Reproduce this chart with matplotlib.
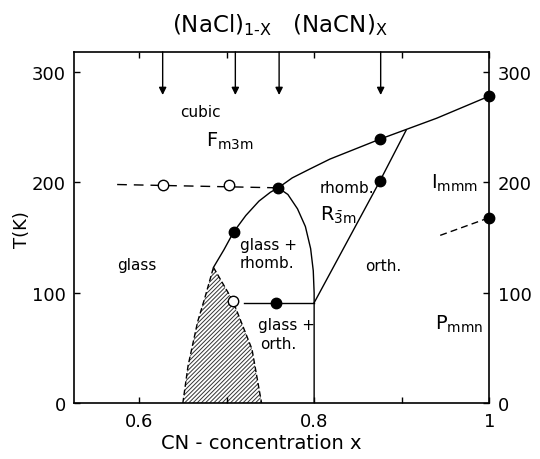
import matplotlib
matplotlib.use("Agg")
import matplotlib.pyplot as plt
from matplotlib.patches import Polygon

plt.rcParams['font.family'] = ['DejaVu Sans']
plt.rcParams['mathtext.fontset'] = 'dejavusans'
plt.rcParams['hatch.linewidth'] = 0.7

# Measured transition points (x, T in K)
filled_x = [0.759, 0.708, 0.757, 0.875, 0.875, 1.0, 1.0]
filled_T = [195, 155, 91, 239, 201, 278, 168]
open_x = [0.627, 0.703, 0.707]
open_T = [198, 198, 93]

# Concentrations of the samples (arrows on top)
sample_x = [0.627, 0.710, 0.760, 0.876]

# Phase boundaries
cubic_x = [0.759, 0.775, 0.795, 0.818, 0.875, 0.94, 1.0]
cubic_T = [195, 204, 212, 221, 239, 258, 278]

dome_x = [0.685, 0.697, 0.708, 0.722, 0.737, 0.750, 0.759, 0.770, 0.781, 0.790, 0.796, 0.799, 0.800, 0.800]
dome_T = [123, 139, 155, 170, 183, 191, 195, 189, 176, 160, 140, 120, 100, 0]

orth_x = [0.800, 0.875, 0.905]
orth_T = [91, 201, 247]

glass_orth_x = [0.720, 0.800]
glass_orth_T = [91, 91]

dash_x = [0.575, 0.759]
dash_T = [198, 195]

imm_x = [0.944, 1.0]
imm_T = [152, 168]

# Frozen-glass region
hatch_left_x = [0.650, 0.656, 0.667, 0.675, 0.685]
hatch_left_T = [0, 34, 74, 95, 123]
hatch_right_x = [0.685, 0.707, 0.729, 0.740]
hatch_right_T = [123, 93, 49, 0]

fig = plt.figure(figsize=(5.4, 4.6), dpi=100)
ax = fig.add_axes([0.137, 0.121, 0.769, 0.764])
ax.set_xlim(0.5257, 1.0)
ax.set_ylim(0, 318)

lw = 1.0
poly = list(zip(hatch_left_x, hatch_left_T)) + list(zip(hatch_right_x[1:], hatch_right_T[1:]))
ax.add_patch(Polygon(poly, closed=True, facecolor='white', edgecolor='#333333',
                     hatch='////////', linewidth=0, zorder=1))
ax.plot(hatch_left_x, hatch_left_T, color='black', lw=lw, ls=(0, (4, 2)), zorder=2)
ax.plot(hatch_right_x, hatch_right_T, color='black', lw=lw, ls=(0, (4, 2)), zorder=2)

ax.plot(cubic_x, cubic_T, color='black', lw=lw, zorder=3)
ax.plot(dome_x, dome_T, color='black', lw=lw, zorder=3)
ax.plot(orth_x, orth_T, color='black', lw=lw, zorder=3)
ax.plot(glass_orth_x, glass_orth_T, color='black', lw=lw, zorder=3)
ax.plot(dash_x, dash_T, color='black', lw=lw, ls=(0, (7, 5)), zorder=3)
ax.plot(imm_x, imm_T, color='black', lw=lw, ls=(0, (5, 3)), zorder=3)

ax.plot(filled_x, filled_T, 'o', color='black', ms=7.5, clip_on=False, zorder=5)
ax.plot(open_x, open_T, 'o', mfc='white', mec='black', mew=1.0, ms=7.5, zorder=5)

for sx in sample_x:
    ax.annotate('', xy=(sx, 279), xytext=(sx, 318),
                arrowprops=dict(arrowstyle='-|>', color='black', lw=1.0,
                                mutation_scale=11, shrinkA=0, shrinkB=0))

fs = 11
ax.text(0.670, 264, 'cubic', fontsize=fs, ha='center', va='center')
ax.text(0.704, 238, r'$\mathregular{F_{m3m}}$', fontsize=14, ha='center', va='center')
ax.text(0.838, 195, 'rhomb.', fontsize=fs, ha='center', va='center')
ax.text(0.828, 171, r'$\mathregular{R_{\bar{3}m}}$', fontsize=14, ha='center', va='center')
ax.text(0.597, 126, 'glass', fontsize=fs, ha='center', va='center')
ax.text(0.715, 144, 'glass +', fontsize=fs, ha='left', va='center')
ax.text(0.715, 127, 'rhomb.', fontsize=fs, ha='left', va='center')
ax.text(0.736, 71, 'glass +', fontsize=fs, ha='left', va='center')
ax.text(0.738, 54, 'orth.', fontsize=fs, ha='left', va='center')
ax.text(0.879, 125, 'orth.', fontsize=fs, ha='center', va='center')
ax.text(0.933, 200, r'$\mathregular{I_{mmm}}$', fontsize=14, ha='left', va='center')
ax.text(0.938, 72, r'$\mathregular{P_{mmn}}$', fontsize=14, ha='left', va='center')

ax.set_xticks([0.6, 0.8, 1.0])
ax.set_xticklabels(['0.6', '0.8', '1'])
ax.set_xticks([0.7, 0.9], minor=True)
ax.set_yticks([0, 100, 200, 300])
ax.tick_params(which='both', direction='in', length=4, width=1.0, top=True, right=True,
               labelright=True, labelsize=13, pad=6)
for sp in ax.spines.values():
    sp.set_linewidth(1.2)

fig.text(0.04, 0.50, 'T(K)', rotation=90, fontsize=13, ha='center', va='center')
fig.text(0.483, 0.035, 'CN - concentration x', fontsize=14, ha='center', va='center')
fig.text(0.518, 0.945, r'(NaCl)$_{\mathregular{1\text{-}X}}$   (NaCN)$_{\mathregular{X}}$',
         fontsize=16.5, ha='center', va='center')

fig.savefig('out.png', dpi=100)
